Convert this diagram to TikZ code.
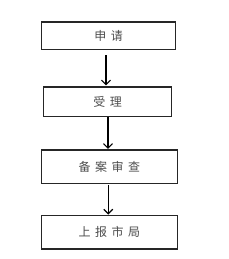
\documentclass[tikz,border=0pt]{standalone}
\usepackage{fontspec}
\newfontfamily\cjk{Noto Sans CJK SC}
\usetikzlibrary{arrows.meta}
\tikzset{
  stepbox/.style={draw=black!85, line width=1.2pt, minimum height=#1, inner sep=0pt, font=\cjk\fontsize{12pt}{12pt}\selectfont, text=black!70},
  flow/.style={draw=black, line width=1.3pt, -{Straight Barb[length=4.5pt,width=9pt,line width=1.2pt]}}
}
\newcommand{\gp}{\hspace{4.5pt}}
\begin{document}
\begin{tikzpicture}[x=1pt,y=-1pt]
\useasboundingbox (0,0) rectangle (228,259);
\node[stepbox=27.5pt, minimum width=134pt] (a) at (108.5,35.8) {申\gp 请};
\node[stepbox=29.3pt, minimum width=128.4pt] (b) at (107.5,101.7) {受\gp 理};
\node[stepbox=33.3pt, minimum width=136pt] (c) at (109.3,166.7) {备\gp 案\gp 审\gp 查};
\node[stepbox=33.3pt, minimum width=136pt] (d) at (109.3,232.3) {上\gp 报\gp 市\gp 局};
\draw[flow] ([xshift=-2.5pt,yshift=-5pt]a.south) -- ([xshift=-1.5pt,yshift=1pt]b.north);
\draw[flow] ([xshift=0.5pt]b.south) -- ([xshift=-1.3pt,yshift=0.5pt]c.north);
\draw[flow] ([xshift=-1pt,yshift=-1pt]c.south) -- ([xshift=-1pt,yshift=0.5pt]d.north);
\end{tikzpicture}
\end{document}
